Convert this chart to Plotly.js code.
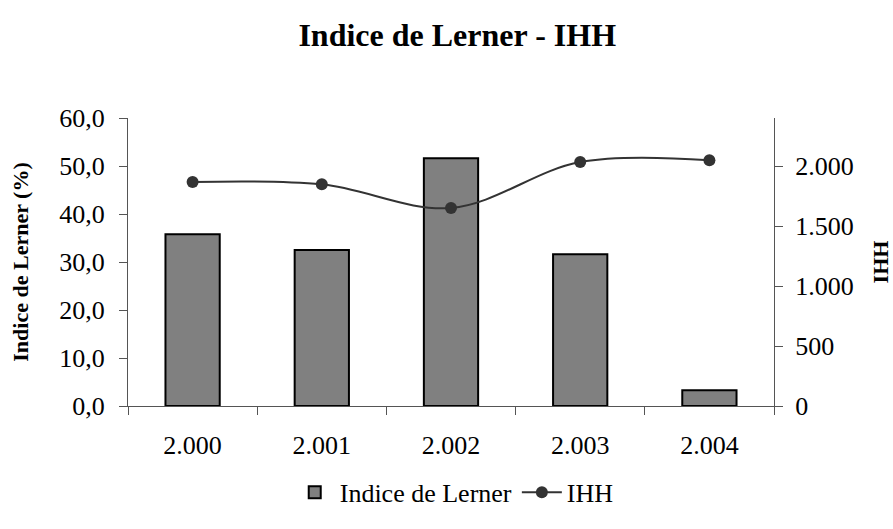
<!DOCTYPE html>
<html><head><meta charset="utf-8">
<script src="https://cdn.plot.ly/plotly-3.0.1.min.js"></script>
<style>body{margin:0;background:#fff}#c{width:893px;height:529px}</style>
</head><body><div id="c"></div>
<script>
const years = ["2.000", "2.001", "2.002", "2.003", "2.004"];
const lerner = [35.8, 32.5, 51.6, 31.6, 3.3];
const ihh = [1867, 1847, 1650, 2033, 2047];

const font = "'Liberation Serif', 'DejaVu Serif', serif";
const data = [
  {type: 'bar', x: years, y: lerner, name: 'Indice de Lerner',
   marker: {color: '#808080', line: {color: '#000', width: 2}}, yaxis: 'y'},
  {type: 'scatter', mode: 'lines+markers', x: years, y: ihh, name: 'IHH', yaxis: 'y2',
   line: {color: '#333', width: 2, shape: 'spline', smoothing: 1},
   marker: {color: '#333', size: 12}}
];
const layout = {
  width: 893, height: 529,
  margin: {l: 128, r: 119, t: 118, b: 123},
  paper_bgcolor: '#fff', plot_bgcolor: '#fff',
  separators: ',.',
  font: {family: font, color: '#000', size: 26},
  title: {text: '<b>Indice de Lerner - IHH</b>', x: 0.512, xanchor: 'center', y: 0.934, yanchor: 'middle',
          font: {family: font, size: 32, color: '#000'}},
  bargap: 0.58,
  showlegend: true,
  legend: {orientation: 'h', x: 0.505, xanchor: 'center', y: -0.3, yanchor: 'middle',
           font: {family: font, size: 26}, itemwidth: 40, tracegroupgap: 0},
  xaxis: {type: 'category', showline: true, linecolor: '#555', linewidth: 1,
          ticks: 'outside', ticklen: 8, tickcolor: '#555', tickson: 'boundaries',
          showgrid: false, zeroline: false, ticklabelstandoff: 16,
          tickfont: {family: font, size: 26}},
  yaxis: {range: [0, 60], dtick: 10, tickformat: '.1f', showline: true, linecolor: '#555',
          ticks: 'outside', ticklen: 8, tickcolor: '#555', showgrid: false, zeroline: false,
          ticklabelstandoff: 9, tickfont: {family: font, size: 26},
          title: {text: '<b>Indice de Lerner (%)</b>', font: {family: font, size: 22}, standoff: 24}},
  yaxis2: {range: [0, 2400], tickvals: [0, 500, 1000, 1500, 2000], tickformat: ',.0f',
           overlaying: 'y', side: 'right', anchor: 'x', showline: true, linecolor: '#555',
           ticks: 'outside', ticklen: 8, tickcolor: '#555', showgrid: false, zeroline: false,
           ticklabelstandoff: 7, tickfont: {family: font, size: 26},
           title: {text: '<b>IHH</b>', font: {family: font, size: 22}, standoff: 20}},
  xaxis3: {overlaying: 'x', anchor: 'y', range: [-0.5, 4.5], tick0: 0.5, dtick: 1,
           ticks: 'inside', ticklen: 8, tickcolor: '#555', showticklabels: false,
           showline: false, showgrid: false, zeroline: false},
  yaxis3: {overlaying: 'y', side: 'left', anchor: 'x', range: [0, 60], dtick: 10,
           ticks: 'inside', ticklen: 8, tickcolor: '#555', showticklabels: false,
           showline: false, showgrid: false, zeroline: false},
  yaxis4: {overlaying: 'y', side: 'right', anchor: 'x', range: [0, 2400], tick0: 0, dtick: 500,
           ticks: 'inside', ticklen: 8, tickcolor: '#555', showticklabels: false,
           showline: false, showgrid: false, zeroline: false}
};
Plotly.newPlot('c', data, layout, {displayModeBar: false, staticPlot: true});
</script></body></html>
